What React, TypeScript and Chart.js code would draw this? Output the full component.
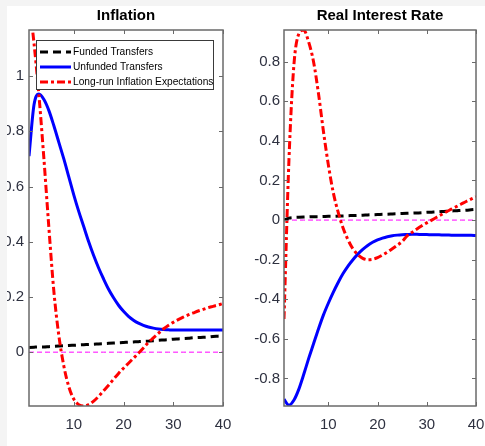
import React, { useEffect, useRef } from "react";
import { Chart, registerables } from "chart.js";

Chart.register(...registerables);

// ---------- data ----------
const periods = [
  1, 2, 3, 4, 5, 6, 7, 8, 9, 10, 11, 12, 13, 14, 15, 16, 17, 18, 19, 20,
  21, 22, 23, 24, 25, 26, 27, 28, 29, 30, 31, 32, 33, 34, 35, 36, 37, 38, 39, 40,
];

const seriesLabels = ["Funded Transfers", "Unfunded Transfers", "Long-run Inflation Expectations"];

const inflationFunded = [
  0.017, 0.018, 0.019, 0.019, 0.02, 0.021, 0.022, 0.023, 0.024, 0.025,
  0.026, 0.027, 0.028, 0.029, 0.03, 0.031, 0.032, 0.033, 0.034, 0.035,
  0.036, 0.037, 0.038, 0.039, 0.04, 0.041, 0.043, 0.044, 0.045, 0.047,
  0.048, 0.049, 0.05, 0.052, 0.053, 0.054, 0.055, 0.057, 0.058, 0.059,
];
const inflationUnfunded = [
  0.71, 0.895, 0.935, 0.915, 0.875, 0.82, 0.76, 0.7, 0.635, 0.57,
  0.51, 0.455, 0.4, 0.35, 0.305, 0.265, 0.228, 0.197, 0.17, 0.148,
  0.13, 0.116, 0.105, 0.097, 0.091, 0.087, 0.084, 0.082, 0.081, 0.08,
  0.08, 0.08, 0.08, 0.08, 0.08, 0.08, 0.08, 0.08, 0.08, 0.08,
];
const inflationExpectations = [
  1.28, 1.12, 0.93, 0.7, 0.45, 0.22, 0.06, -0.05, -0.125, -0.17,
  -0.19, -0.195, -0.19, -0.177, -0.16, -0.14, -0.12, -0.098, -0.077, -0.058,
  -0.04, -0.022, -0.004, 0.015, 0.035, 0.052, 0.068, 0.084, 0.097, 0.108,
  0.118, 0.127, 0.135, 0.142, 0.149, 0.155, 0.161, 0.166, 0.171, 0.176,
];

const rateFunded = [
  0.0, 0.01, 0.013, 0.014, 0.015, 0.016, 0.017, 0.017, 0.018, 0.019,
  0.019, 0.02, 0.021, 0.022, 0.023, 0.024, 0.025, 0.026, 0.027, 0.028,
  0.029, 0.03, 0.031, 0.032, 0.033, 0.034, 0.035, 0.036, 0.037, 0.039,
  0.04, 0.041, 0.043, 0.044, 0.046, 0.047, 0.049, 0.05, 0.052, 0.054,
];
const rateUnfunded = [
  -0.905, -0.935, -0.91, -0.855, -0.78, -0.7, -0.625, -0.55, -0.48, -0.42,
  -0.365, -0.315, -0.27, -0.232, -0.2, -0.172, -0.148, -0.128, -0.112, -0.1,
  -0.091, -0.084, -0.079, -0.076, -0.074, -0.073, -0.072, -0.072, -0.073, -0.073,
  -0.074, -0.074, -0.075, -0.075, -0.076, -0.076, -0.077, -0.077, -0.077, -0.078,
];
const rateExpectations = [
  -0.5, 0.3, 0.78, 0.94, 0.96, 0.9, 0.8, 0.64, 0.45, 0.28,
  0.14, 0.04, -0.04, -0.1, -0.145, -0.175, -0.193, -0.2, -0.198, -0.19,
  -0.177, -0.162, -0.145, -0.127, -0.108, -0.08, -0.062, -0.045, -0.029, -0.014,
  0.0, 0.014, 0.028, 0.042, 0.055, 0.068, 0.081, 0.094, 0.106, 0.118,
];

const zeroLine = [
  0, 0, 0, 0, 0, 0, 0, 0, 0, 0, 0, 0, 0, 0, 0, 0, 0, 0, 0, 0,
  0, 0, 0, 0, 0, 0, 0, 0, 0, 0, 0, 0, 0, 0, 0, 0, 0, 0, 0, 0,
];

const xTicks = [10, 20, 30, 40];
const inflationTicks = [0, 0.2, 0.4, 0.6, 0.8, 1];
const rateTicks = [-0.8, -0.6, -0.4, -0.2, 0, 0.2, 0.4, 0.6, 0.8];

// ---------- styling ----------
const FONT = '"Liberation Sans", Arial, Helvetica, sans-serif';
const AXIS_COLOR = "#6a6a6a";
const TICK_LABEL_COLOR = "#2e3140";
const CANVAS_H = 446;

const matlabPlugin = {
  id: "matlab",
  afterDatasetsDraw(chart: any, _args: any, opts: any) {
    const { ctx, chartArea: a, scales } = chart;
    const xs = scales.x;
    const ys = scales.y;
    ctx.save();
    // box
    ctx.strokeStyle = AXIS_COLOR;
    ctx.lineWidth = 1.5;
    ctx.setLineDash([]);
    ctx.strokeRect(a.left, a.top, a.right - a.left, a.bottom - a.top);
    // inward ticks on all four sides
    ctx.lineWidth = 1;
    const seg = (x1: number, y1: number, x2: number, y2: number) => {
      ctx.beginPath();
      ctx.moveTo(x1, y1);
      ctx.lineTo(x2, y2);
      ctx.stroke();
    };
    xs.ticks.forEach((t: any) => {
      const px = Math.round(xs.getPixelForValue(t.value)) + 0.5;
      seg(px, a.bottom, px, a.bottom - 4);
      seg(px, a.top, px, a.top + 4);
    });
    ys.ticks.forEach((t: any) => {
      const py = Math.round(ys.getPixelForValue(t.value)) + 0.5;
      seg(a.left, py, a.left + 4, py);
      seg(a.right, py, a.right - 4, py);
    });
    // title centred over the axes
    ctx.fillStyle = "#000";
    ctx.font = `bold 15px ${FONT}`;
    ctx.textAlign = "center";
    ctx.textBaseline = "middle";
    ctx.fillText(opts.title, (a.left + a.right) / 2, 15.5);
    // legend box inside the axes
    if (opts.legend) {
      const bx = a.left + 7;
      const by = a.top + 10;
      const bw = 177;
      const bh = 49;
      ctx.fillStyle = "#fff";
      ctx.fillRect(bx, by, bw, bh);
      ctx.strokeStyle = "#3a3a3a";
      ctx.lineWidth = 1;
      ctx.strokeRect(bx + 0.5, by + 0.5, bw, bh);
      const items = chart.data.datasets.filter((d: any) => d.label);
      items.forEach((d: any, i: number) => {
        const ry = by + 12 + i * 15;
        ctx.strokeStyle = d.borderColor;
        ctx.lineWidth = d.borderWidth;
        ctx.setLineDash(d.borderDash || []);
        ctx.lineCap = "butt";
        ctx.beginPath();
        ctx.moveTo(bx + 4, ry);
        ctx.lineTo(bx + 35, ry);
        ctx.stroke();
        ctx.setLineDash([]);
        ctx.fillStyle = "#000";
        ctx.font = `10.2px ${FONT}`;
        ctx.textAlign = "left";
        ctx.textBaseline = "middle";
        ctx.fillText(d.label, bx + 37, ry + 0.5);
      });
    }
    ctx.restore();
  },
};

type PanelProps = {
  title: string;
  funded: number[];
  unfunded: number[];
  expectations: number[];
  yMin: number;
  yMax: number;
  yTicks: number[];
  legend: boolean;
  left: number;
  width: number;
  areaLeft: number;
  areaRight: number;
  labelPad: number;
};

function toPoints(values: number[]) {
  return periods.map((p, i) => ({ x: p, y: values[i] }));
}

function Panel(props: PanelProps) {
  const ref = useRef<HTMLCanvasElement | null>(null);
  useEffect(() => {
    if (!ref.current) return;
    const tickFont = { family: FONT, size: 15 };
    const chart = new Chart(ref.current, {
      type: "line",
      data: {
        datasets: [
          {
            label: seriesLabels[0],
            data: toPoints(props.funded),
            borderColor: "#000000",
            borderWidth: 3,
            borderDash: [8, 5],
            order: 2,
          },
          {
            label: seriesLabels[1],
            data: toPoints(props.unfunded),
            borderColor: "#0000ff",
            borderWidth: 3,
            order: 1,
          },
          {
            label: seriesLabels[2],
            data: toPoints(props.expectations),
            borderColor: "#ff0000",
            borderWidth: 3,
            borderDash: [8, 3, 3, 3],
            order: 0,
          },
          {
            label: "",
            data: toPoints(zeroLine),
            borderColor: "#ff00ff",
            borderWidth: 1,
            borderDash: [5, 3],
            order: 3,
          },
        ] as any,
      },
      options: {
        animation: false,
        responsive: false,
        devicePixelRatio: 1,
        events: [],
        layout: {
          padding: { top: 30, left: 0, right: props.width - props.areaRight, bottom: 0 },
        },
        elements: {
          point: { radius: 0 },
          line: { cubicInterpolationMode: "monotone", fill: false },
        },
        plugins: {
          legend: { display: false },
          title: { display: false },
          tooltip: { enabled: false },
          matlab: { title: props.title, legend: props.legend },
        } as any,
        scales: {
          x: {
            type: "linear",
            min: 1,
            max: 40,
            grid: { display: false, drawTicks: false, tickLength: 0 },
            border: { display: false },
            afterBuildTicks: (s: any) => {
              s.ticks = xTicks.map((v) => ({ value: v }));
            },
            afterFit: (s: any) => {
              s.height = CANVAS_H - 406;
              s.paddingLeft = 0;
              s.paddingRight = 0;
            },
            ticks: {
              padding: 10,
              font: tickFont,
              color: TICK_LABEL_COLOR,
              maxRotation: 0,
              autoSkip: false,
              callback: (v: any) => String(v),
            },
          },
          y: {
            type: "linear",
            min: props.yMin,
            max: props.yMax,
            grid: { display: false, drawTicks: false, tickLength: 0 },
            border: { display: false },
            afterBuildTicks: (s: any) => {
              s.ticks = props.yTicks.map((v) => ({ value: v }));
            },
            afterFit: (s: any) => {
              s.width = props.areaLeft;
              s.paddingTop = 0;
              s.paddingBottom = 0;
            },
            ticks: {
              padding: props.labelPad,
              font: tickFont,
              color: TICK_LABEL_COLOR,
              autoSkip: false,
              callback: (v: any) => String(Number(Number(v).toFixed(1))),
            },
          },
        },
      } as any,
      plugins: [matlabPlugin as any],
    });
    return () => chart.destroy();
  }, []);
  return (
    <canvas
      ref={ref}
      width={props.width}
      height={CANVAS_H}
      style={{ position: "absolute", left: props.left, top: 0, width: props.width, height: CANVAS_H }}
    />
  );
}

export default function App() {
  return (
    <div
      style={{
        position: "fixed",
        left: 0,
        top: 0,
        width: 485,
        height: 446,
        background: "#f4f4f4",
        overflow: "hidden",
      }}
    >
      <div style={{ position: "absolute", left: 7, top: 6, right: 0, bottom: 0, background: "#ffffff" }} />
      <Panel
        title="Inflation"
        funded={inflationFunded}
        unfunded={inflationUnfunded}
        expectations={inflationExpectations}
        yMin={-0.195}
        yMax={1.167}
        yTicks={inflationTicks}
        legend={true}
        left={7}
        width={230}
        areaLeft={22}
        areaRight={216}
        labelPad={5}
      />
      <Panel
        title="Real Interest Rate"
        funded={rateFunded}
        unfunded={rateUnfunded}
        expectations={rateExpectations}
        yMin={-0.939}
        yMax={0.96}
        yTicks={rateTicks}
        legend={false}
        left={240}
        width={245}
        areaLeft={44}
        areaRight={236}
        labelPad={4}
      />
    </div>
  );
}
